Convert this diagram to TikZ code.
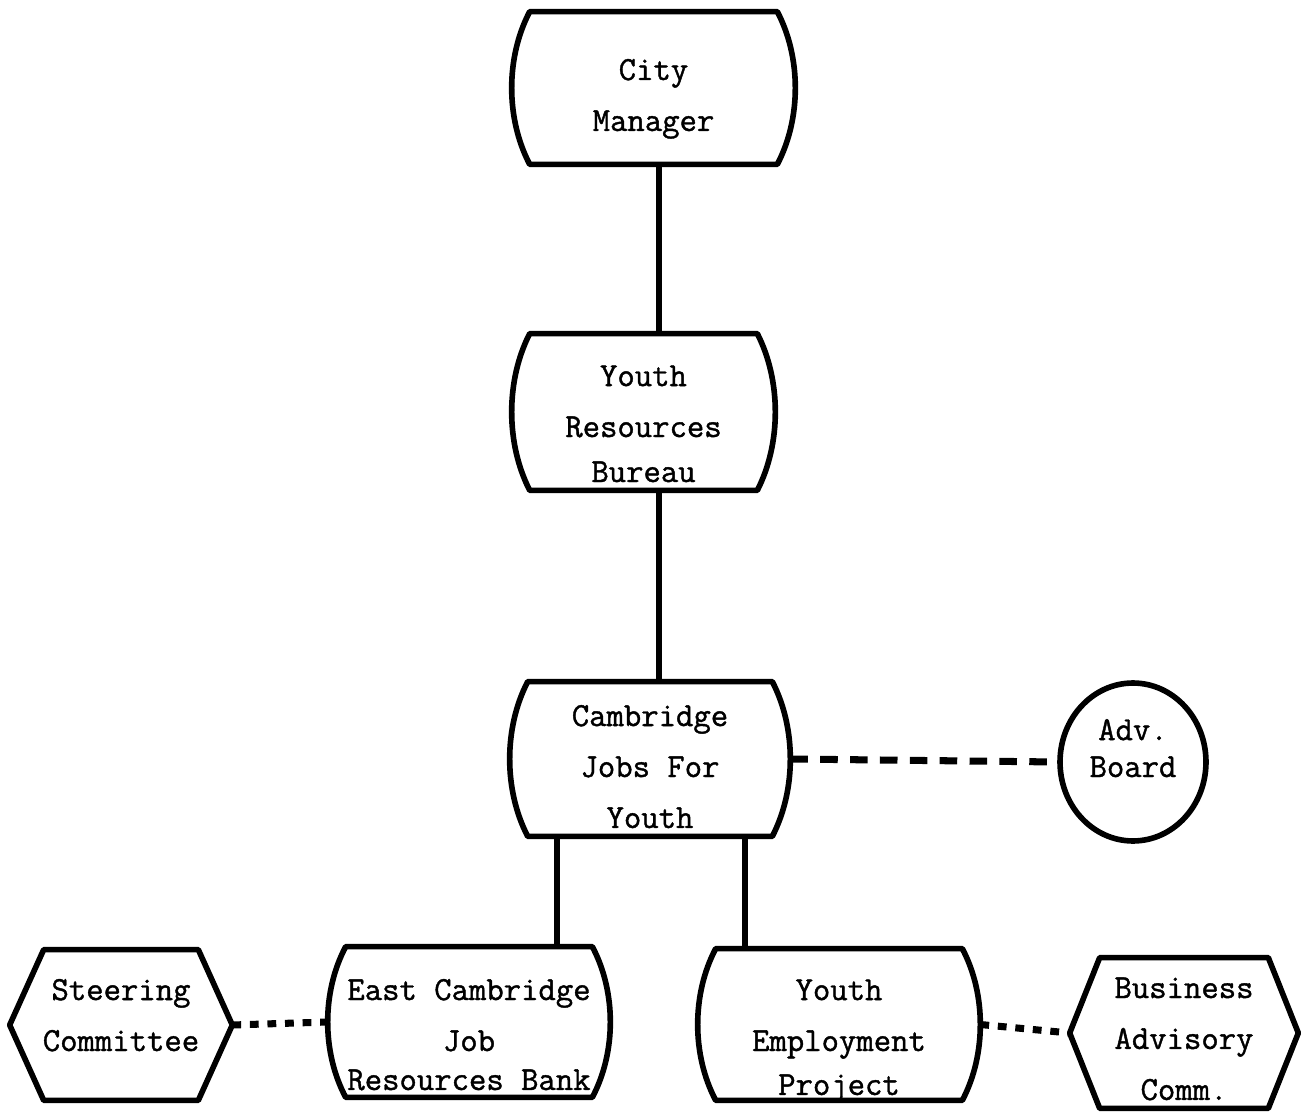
\documentclass[tikz,border=0pt]{standalone}
\usepackage{fontspec}
\setmonofont{Latin Modern Mono}[FakeBold=1.2]
\usetikzlibrary{calc,shapes.geometric}

\tikzset{
  unit/.style={rectangle,inner sep=0pt,align=center,text depth=0pt,
    font=\ttfamily\fontsize{19.2}{29}\selectfont},
  frame/.style={line width=3.2pt,line join=round},
  link/.style={line width=3.2pt},
  dashlink/.style={line width=4pt,dash pattern=on 10pt off 7pt},
  dotlink/.style={line width=4pt,dash pattern=on 5pt off 5pt},
}

% outline with straight top and bottom, bulging sides
\newcommand\barrel[1]{%
  \draw[frame] ($(#1.north west)+(18,0)$) -- ($(#1.north east)-(18,0)$)
    .. controls ($(#1.north east)!0.3!(#1.south east)+(6,0)$)
       and ($(#1.north east)!0.7!(#1.south east)+(6,0)$) .. ($(#1.south east)-(18,0)$)
    -- ($(#1.south west)+(18,0)$)
    .. controls ($(#1.north west)!0.7!(#1.south west)-(6,0)$)
       and ($(#1.north west)!0.3!(#1.south west)-(6,0)$) .. ($(#1.north west)+(18,0)$)
    -- cycle;}

% six-sided outline, #2 = inset of the flat edges
\newcommand\hexframe[2]{%
  \draw[frame] (#1.west) -- ($(#1.north west)+(#2,0)$) -- ($(#1.north east)-(#2,0)$)
    -- (#1.east) -- ($(#1.south east)-(#2,0)$) -- ($(#1.south west)+(#2,0)$) -- cycle;}

\begin{document}
\begin{tikzpicture}[x=0.02cm,y=-0.02cm]
  \useasboundingbox (0,0) rectangle (1302,1114);

  \node[unit,minimum width=5.66cm,minimum height=3.04cm,text height=48.9pt] (cm)  at (653.5,88)   {City\\Manager};
  \node[unit,minimum width=5.26cm,minimum height=3.12cm,text height=79.7pt] (yrb) at (643.5,412)  {Youth\\Resources\\[-3.4pt]Bureau};
  \node[unit,minimum width=5.60cm,minimum height=3.08cm,text height=78.5pt] (cjy) at (650,759)    {Cambridge\\Jobs For\\Youth};
  \node[unit,minimum width=5.64cm,minimum height=3.00cm,text height=77.4pt] (ecb) at (469,1022)   {East Cambridge\\Job\\[-6.8pt]Resources Bank};
  \node[unit,minimum width=5.64cm,minimum height=3.02cm,text height=80.2pt] (yep) at (839,1024.5) {Youth\\Employment\\[-4pt]Project};
  \node[unit,minimum width=4.44cm,minimum height=3.00cm,text height=29.6pt] (sc)  at (121,1025)   {Steering\\Committee};
  \node[unit,minimum width=4.56cm,minimum height=3.00cm,text height=76.2pt] (bac) at (1184,1033)  {Business\\Advisory\\Comm.};
  \node[unit,ellipse,draw,frame,minimum width=2.92cm,minimum height=3.16cm,text height=17.1pt] (adv) at (1133,762) {Adv.\\[-8pt]Board};

  \foreach \n in {cm,yrb,cjy,ecb,yep}
    {\barrel{\n}}
  \hexframe{sc}{34}
  \hexframe{bac}{30}

  \coordinate (spine) at (659,0);
  \coordinate (leftdrop) at (557,0);
  \coordinate (rightdrop) at (745,0);

  \draw[link] (cm.south -| spine) -- (yrb.north -| spine);
  \draw[link] (yrb.south -| spine) -- (cjy.north -| spine);
  \draw[link] (cjy.south -| leftdrop) -- (ecb.north -| leftdrop);
  \draw[link] (cjy.south -| rightdrop) -- (yep.north -| rightdrop);

  \draw[dashlink] (cjy.east) -- (adv.west);
  \draw[dotlink] (sc.east) -- (ecb.west);
  \draw[dotlink] (yep.east) -- (bac.west);
\end{tikzpicture}
\end{document}
